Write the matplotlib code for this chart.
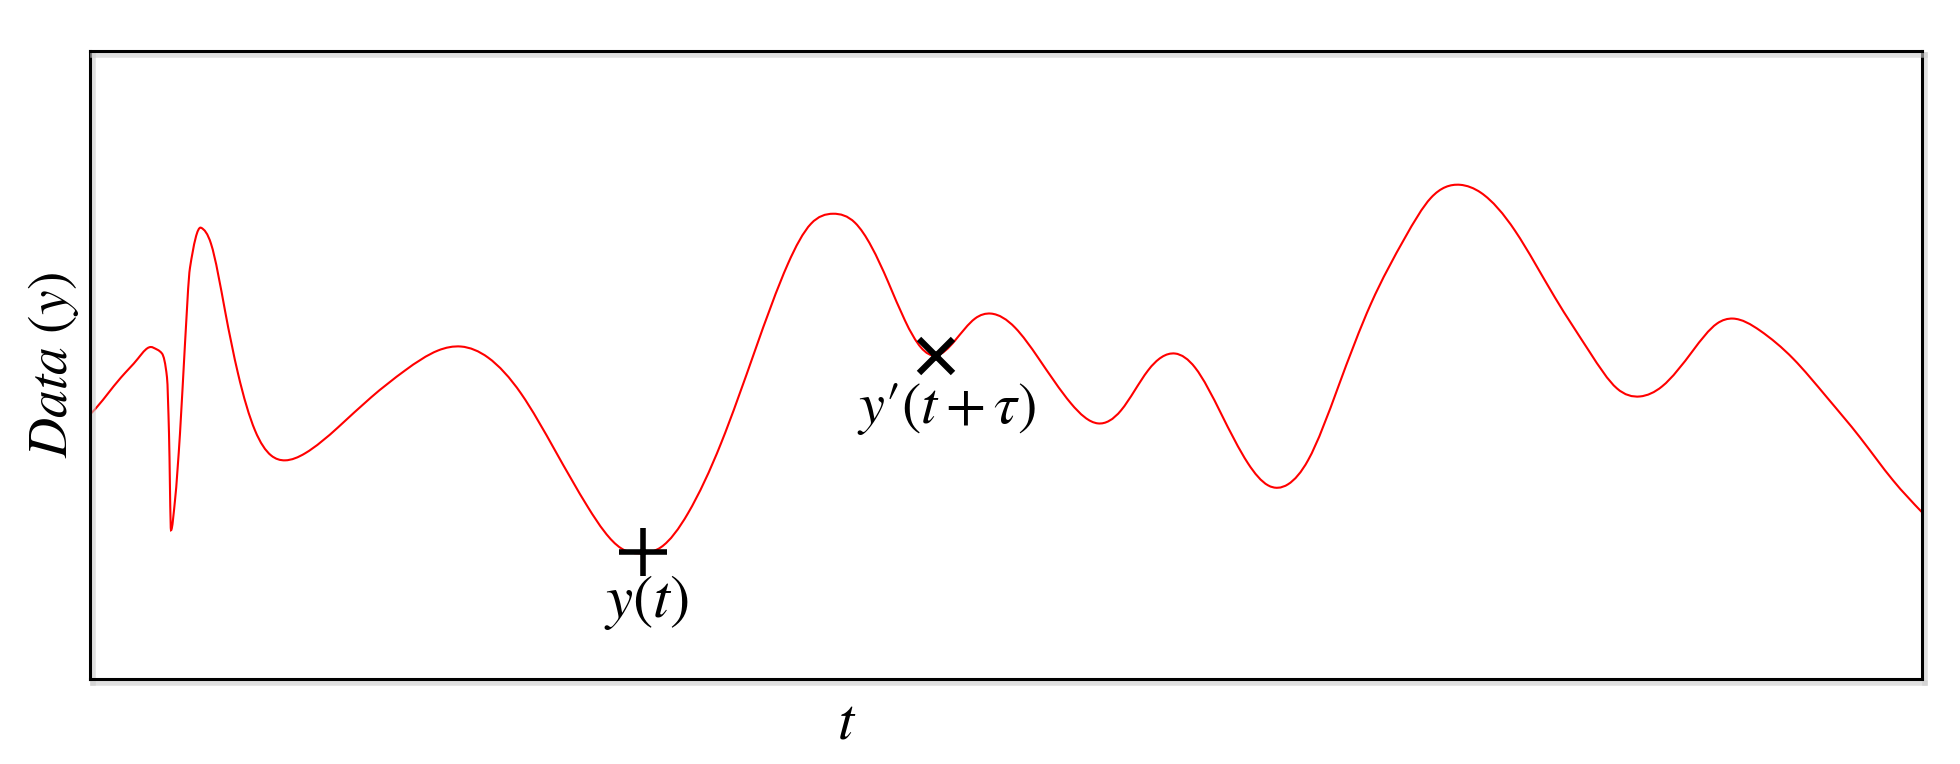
import numpy as np
import matplotlib
matplotlib.use("Agg")
import matplotlib.pyplot as plt
from matplotlib.path import Path
from matplotlib.patches import PathPatch
import matplotlib.patheffects as pe

plt.rcParams["mathtext.fontset"] = "stix"

# signal (t, y in arbitrary units)
t = [0, 2, 31, 48, 63, 72, 77, 79, 81, 85, 90, 95, 100, 111, 121, 135, 148,
     165, 181, 195, 215, 248,
     281, 315, 348, 371, 398, 431, 465, 498, 531, 553, 571, 598, 631, 665, 698,
     721, 743, 765, 798, 815, 831, 846, 865, 885, 901, 925, 948, 981, 1008,
     1031, 1058, 1085, 1105, 1131, 1158, 1178, 1198, 1218, 1248, 1281, 1315,
     1341, 1370, 1391, 1425, 1465, 1500, 1527, 1550, 1572, 1603, 1627, 1643,
     1670, 1703, 1737, 1770, 1803, 1832]
y = [265, 267, 302, 321, 332, 326, 302, 246, 149, 179, 246, 336, 412, 452, 436,
     369, 306, 249, 224, 219, 226, 252,
     282, 309, 329, 333, 322, 286, 229, 172, 131, 126, 132, 166, 236,
     329, 416, 456, 466, 457, 398, 359, 332, 324, 339, 361, 366, 352, 322, 276,
     256, 269, 309, 326, 312, 266, 216, 194, 195, 219, 292, 376, 442, 482, 495,
     487, 449, 382, 327, 291, 283, 293, 329, 356, 361, 349, 321, 282, 242, 199,
     167]

# the two marked samples
t_plus, y_plus = 553, 127
t_cross, y_cross = 846, 324

T_MAX, Y_MAX = 1832, 629
SHARP = (70, 106)   # fast wiggle: keep it from ringing


def smooth_path(xs, ys):
    """Cubic spline through the points, handed to a Bezier Path."""
    x = np.asarray(xs, float)
    v = np.asarray(ys, float)
    n = len(x)
    h = np.diff(x)
    d = np.diff(v) / h
    # natural spline slopes
    A = np.zeros((n, n))
    r = np.zeros(n)
    A[0, 0] = A[-1, -1] = 1
    for i in range(1, n - 1):
        A[i, i - 1] = h[i - 1]
        A[i, i] = 2 * (h[i - 1] + h[i])
        A[i, i + 1] = h[i]
        r[i] = 3 * (d[i] - d[i - 1])
    c = np.linalg.solve(A, r)
    m = np.empty(n)
    m[:-1] = d - h * (2 * c[:-1] + c[1:]) / 3
    m[-1] = d[-1] + h[-1] * (c[-2] + 2 * c[-1]) / 3
    # monotone slopes in the sharp part
    for i in range(1, n - 1):
        if SHARP[0] <= x[i] <= SHARP[1]:
            if d[i - 1] * d[i] > 0:
                w1 = 2 * h[i] + h[i - 1]
                w2 = h[i] + 2 * h[i - 1]
                m[i] = (w1 + w2) / (w1 / d[i - 1] + w2 / d[i])
            else:
                m[i] = 0
    verts = [(x[0], v[0])]
    codes = [Path.MOVETO]
    for i in range(n - 1):
        verts += [(x[i] + h[i] / 3, v[i] + m[i] * h[i] / 3),
                  (x[i + 1] - h[i] / 3, v[i + 1] - m[i + 1] * h[i] / 3),
                  (x[i + 1], v[i + 1])]
        codes += [Path.CURVE4] * 3
    return Path(verts, codes)


fig = plt.figure(figsize=(19.6, 7.64), dpi=100)
ax = fig.add_axes([90 / 1960, 1 - 679 / 764, 1832 / 1960, 628 / 764])

ax.add_patch(PathPatch(smooth_path(t, y), fill=False, edgecolor="#ff0000",
                       lw=1.5, zorder=2))

ax.plot([t_plus], [y_plus], marker="+", ms=34, mew=4, color="black", zorder=3)
ax.plot([t_cross], [y_cross], marker="x", ms=24, mew=4.5, color="black", zorder=3)

ax.text(t_plus + 4, y_plus - 50, r"$y(t)$", fontsize=44, ha="center", va="center")
ax.text(t_cross + 11, y_cross - 53, "$y\u2032(t+\\tau)$", fontsize=42,
        ha="center", va="center")

ax.text(0.413, -0.068, r"$t$", transform=ax.transAxes, fontsize=42,
        ha="center", va="center")
ax.text(-0.02, 0.5, r"$Data\ (y)$", transform=ax.transAxes, fontsize=40,
        ha="center", va="center", rotation=90)

ax.set_xlim(0, T_MAX)
ax.set_ylim(0, Y_MAX)
ax.set_xticks([]); ax.set_yticks([])
for s in ax.spines.values():
    s.set_linewidth(2.2)
    s.set_color("black")
    s.set_path_effects([pe.SimpleLineShadow(offset=(2, -3), shadow_color="0.8",
                                            alpha=0.6, linewidth=4), pe.Normal()])

fig.savefig("out.png", dpi=100)
